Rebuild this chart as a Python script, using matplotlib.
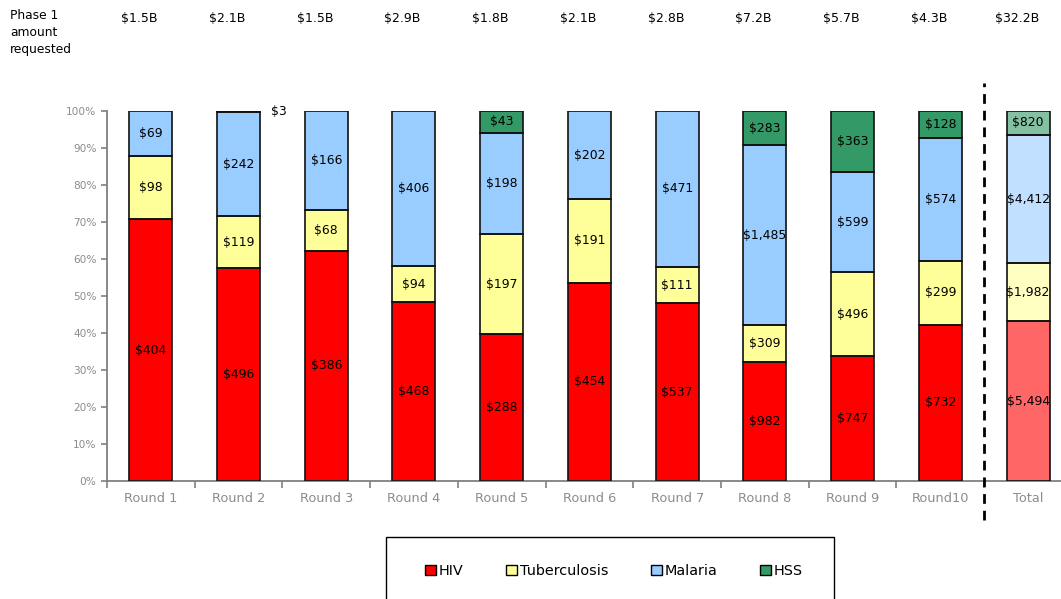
import matplotlib.pyplot as plt
import matplotlib.transforms as mtransforms
from matplotlib.patches import Patch, Rectangle
import numpy as np

plt.rcParams['font.family'] = 'DejaVu Sans'

# ---------------------------------------------------------------
# Phase 1 amounts requested per round, by component ($M)
# ---------------------------------------------------------------
rounds = ['Round 1', 'Round 2', 'Round 3', 'Round 4', 'Round 5', 'Round 6',
          'Round 7', 'Round 8', 'Round 9', 'Round10', 'Total']
hiv = [404, 496, 386, 468, 288, 454, 537, 982, 747, 732, 5494]
tb = [98, 119, 68, 94, 197, 191, 111, 309, 496, 299, 1982]
malaria = [69, 242, 166, 406, 198, 202, 471, 1485, 599, 574, 4412]
hss = [0, 3, 0, 0, 43, 0, 0, 283, 363, 128, 820]
requested = ['$1.5B', '$2.1B', '$1.5B', '$2.9B', '$1.8B', '$2.1B',
             '$2.8B', '$7.2B', '$5.7B', '$4.3B', '$32.2B']

names = ['HIV', 'Tuberculosis', 'Malaria', 'HSS']
colors = ['#FF0000', '#FFFF99', '#99CCFF', '#339966']

values = np.array([hiv, tb, malaria, hss], dtype=float)
share = values / values.sum(axis=0) * 100

fig = plt.figure(figsize=(10.61, 5.99), dpi=100)
ax = fig.add_axes([0.1008, 0.197, 0.9095, 0.6177])

x = np.arange(len(rounds))
width = 0.49
bottom = np.zeros(len(rounds))
for k in range(4):
    for i in range(len(rounds)):
        h = share[k, i]
        if values[k, i] == 0:
            continue
        alpha = 0.6 if rounds[i] == 'Total' else 1.0
        ax.bar(x[i], h, width, bottom=bottom[i],
               color=colors[k], alpha=alpha, edgecolor='none', zorder=2)
        ax.bar(x[i], h, width, bottom=bottom[i],
               facecolor='none', edgecolor='#111111', linewidth=1.2, zorder=3)
        label = '${:,.0f}'.format(values[k, i])
        if h > 3:
            ax.text(x[i], bottom[i] + h / 2, label, ha='center', va='center',
                    fontsize=8.9, color='black', zorder=4)
        else:
            # too thin to hold its label, write it beside the bar
            ax.text(x[i] + width / 2 + 0.13, bottom[i] + h / 2, label,
                    ha='left', va='center', fontsize=8.9, color='black')
    bottom += share[k]

ax.set_xlim(-0.5, len(rounds) - 0.5)
ax.set_ylim(0, 100)

ax.set_yticks(np.arange(0, 101, 10))
ax.set_yticklabels(['{}%'.format(v) for v in range(0, 101, 10)])
ax.tick_params(axis='y', colors='#808080', labelsize=7.6, length=4, width=1.2,
               labelcolor='#8C8C8C')

ax.set_xticks(x)
ax.set_xticklabels(rounds)
ax.set_xticks(np.arange(-0.5, len(rounds), 1), minor=True)
ax.tick_params(axis='x', which='major', length=0, pad=8,
               labelsize=9.3, labelcolor='#8C8C8C')
ax.tick_params(axis='x', which='minor', length=5, width=1.2, color='#808080')

for side in ['top', 'right']:
    ax.spines[side].set_visible(False)
for side in ['left', 'bottom']:
    ax.spines[side].set_color('#808080')
    ax.spines[side].set_linewidth(1.3)

# separator between the rounds and the total
ax.plot([9.5, 9.5], [-10.5, 107.6], color='black', lw=2,
        linestyle=(0, (3.5, 2.5)), clip_on=False, zorder=5)

# amounts requested across the top
trans = mtransforms.blended_transform_factory(ax.transData, fig.transFigure)
for i, txt in enumerate(requested):
    ax.text(x[i] - 0.13, 1 - 18 / 599, txt, transform=trans,
            ha='center', va='center', fontsize=9)
fig.text(10 / 1061, 1 - 9 / 599, 'Phase 1\namount\nrequested',
         ha='left', va='top', fontsize=8.8, linespacing=1.4)

# legend in its own box along the bottom
fig.patches.append(Rectangle((386 / 1061, -0.05), (834 - 386) / 1061,
                             0.05 + 1 - 537 / 599, transform=fig.transFigure,
                             facecolor='none', edgecolor='black', lw=1.0))
handles = [Patch(facecolor=c, edgecolor='black', linewidth=1.0) for c in colors]
fig.legend(handles, names, ncol=4, loc='center',
           bbox_to_anchor=(614 / 1061, 1 - 571 / 599), frameon=False,
           fontsize=10.4, handlelength=0.75, handleheight=0.75,
           handletextpad=0.2, columnspacing=2.95)

fig.savefig('out.png', dpi=100)
